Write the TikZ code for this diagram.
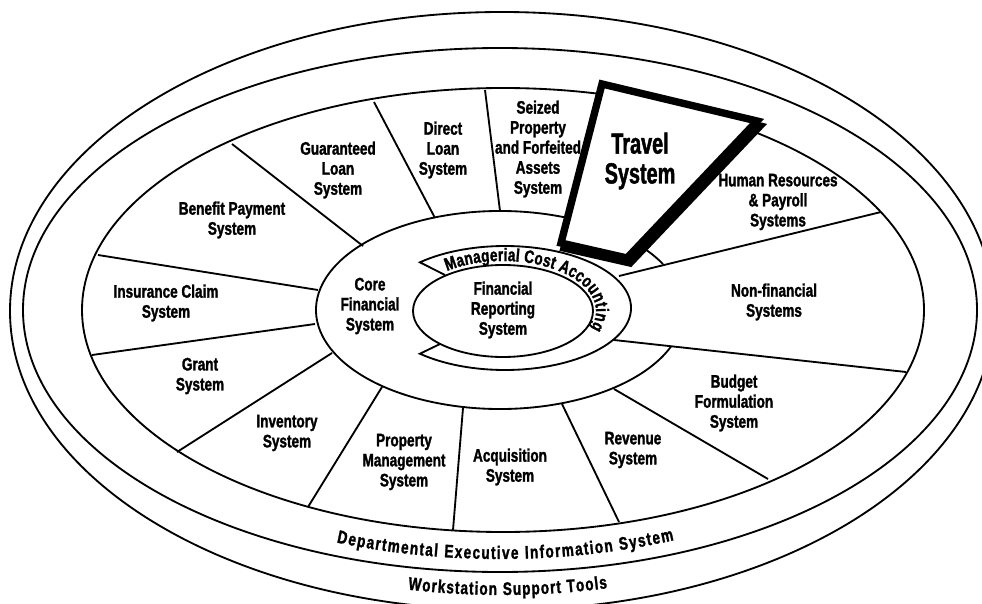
\documentclass[tikz,border=0pt]{standalone}
\usepackage{fontspec}
\newfontfamily\gothic{Liberation Sans}[FakeStretch=0.75, FakeBold=1.5]
\newfontfamily\gothicnarrow{Liberation Sans}[FakeStretch=0.68, FakeBold=1.5]
\usetikzlibrary{decorations.text}

\begin{document}
\begin{tikzpicture}[
    x=0.02cm, y=-0.02cm, % pixel grid, y pointing down
    line width=1.05pt,
    lbl/.style={align=center, inner sep=0pt, font=\gothic\bfseries\fontsize{10.3}{11.4}\selectfont}, % sector labels
    frame/.style={line width=4.2pt, line join=miter} % Travel System outline
]
\useasboundingbox (0,0) rectangle (982,604);
\clip (0,0) rectangle (982,604);

% Define centres and radii
\coordinate (ws) at (502,311);  % Workstation Support Tools ring
\coordinate (dei) at (500,310); % Departmental Executive ring
\coordinate (wh) at (503,310);  % outer edge of the wheel
\coordinate (cf) at (500,310);  % Core Financial System
\coordinate (fr) at (503,311);  % Financial Reporting System

% Outer rings
\draw (ws) ellipse [x radius=492, y radius=299];
\draw (dei) ellipse [x radius=477, y radius=262];
\draw (wh) ellipse [x radius=421, y radius=222];

% Core ring, open on the right for Non-financial Systems
\draw (cf) ++(21.7:184 and 99) arc[start angle=21.7, end angle=332.4, x radius=184, y radius=99];

% Managerial Cost Accounting band and Financial Reporting System
\draw (445,275) -- (419.9,262.3) arc[start angle=227.5, end angle=492.5, x radius=126, y radius=62] -- (440,344);
\draw (fr) ellipse [x radius=90, y radius=46];

% Spokes between the sectors
\foreach \xa/\ya/\xb/\yb in {98/255/318/290, 232/144/363/246, 374/102/435/218, 485/90/500/211,
    881/212/619/276, 906/372/614/340, 768/479/614/389, 619/522/562/404, 453/530/463/408,
    308/507/382/387, 177/452/332/353, 92/355/315/324}
  \draw (\xa,\ya) -- (\xb,\yb);

% Travel System (thick outline with shadow)
\draw[frame, shift={(3,5)}] (602,84) -- (757,121) -- (627,258) -- (561,243) -- cycle;
\draw[frame, fill=white] (602,84) -- (757,121) -- (627,258) -- (561,243) -- cycle;
\node[lbl, font=\gothicnarrow\bfseries\fontsize{16.6}{17}\selectfont] (travel) at (640,161) {Travel\\System};

% Sector labels
\node[lbl] (guar) at (338,170) {Guaranteed\\Loan\\System};
\node[lbl] (direct) at (443,150) {Direct\\Loan\\System};
\node[lbl] (seized) at (538,149) {Seized\\Property\\and Forfeited\\Assets\\System};
\node[lbl] (hr) at (778,202) {Human Resources\\\& Payroll\\Systems};
\node[lbl] (nonfin) at (774,302) {Non-financial\\Systems};
\node[lbl] (budget) at (734,403) {Budget\\Formulation\\System};
\node[lbl] (revenue) at (633,450) {Revenue\\System};
\node[lbl] (acq) at (510,467) {Acquisition\\System};
\node[lbl] (property) at (404,462) {Property\\Management\\System};
\node[lbl] (inventory) at (287,433) {Inventory\\System};
\node[lbl] (grant) at (200,376) {Grant\\System};
\node[lbl] (insurance) at (166,303) {Insurance Claim\\System};
\node[lbl] (benefit) at (232,220) {Benefit Payment\\System};
\node[lbl] (core) at (370,306) {Core\\Financial\\System};
\node[lbl] (report) at (503,310) {Financial\\Reporting\\System};

% Curved labels
\path[decorate, decoration={text along path, text align=fit to path,
    text={|\gothic\bfseries\fontsize{10.3}{11}\selectfont|Managerial Cost Accounting}}]
  (fr) ++(-127:93 and 50) arc[start angle=-127, end angle=20, x radius=93, y radius=50];
\path[decorate, decoration={text along path, text align=fit to path,
    text={|\gothic\bfseries\fontsize{10.3}{11}\selectfont|Departmental Executive Information System}}]
  (dei) ++(111:456 and 249) arc[start angle=111, end angle=67.6, x radius=456, y radius=249];
\path[decorate, decoration={text along path, text align=fit to path,
    text={|\gothic\bfseries\fontsize{10.3}{11}\selectfont|Workstation Support Tools}}]
  (ws) ++(101.2:484 and 284) arc[start angle=101.2, end angle=77.4, x radius=484, y radius=284];

\end{tikzpicture}
\end{document}
